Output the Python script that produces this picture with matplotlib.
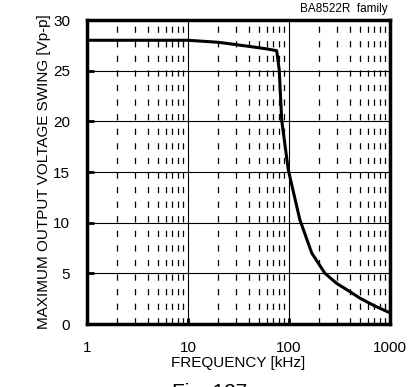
import numpy as np
import matplotlib
matplotlib.use("Agg")
import matplotlib.pyplot as plt
from matplotlib.ticker import FixedLocator, NullFormatter

plt.rcParams['font.family'] = ['Liberation Sans', 'DejaVu Sans']
plt.rcParams['lines.scale_dashes'] = False

# curve: frequency [kHz] vs swing [Vp-p]
freq = [1, 2, 5, 10, 20, 40, 60, 75.5, 80, 84.7, 98.4, 128, 168, 227, 297, 400, 504, 700, 1000]
swing = [28.0, 28.0, 28.0, 28.0, 27.8, 27.4, 27.15, 26.97, 25.1, 20.1, 15.2, 10.3, 7.0, 5.0, 4.0, 3.2, 2.55, 1.8, 1.1]

x_ticks = [1, 10, 100, 1000]
x_ticklabels = ["1", "10", "100", "1000"]
y_ticks = [0, 5, 10, 15, 20, 25, 30]

fig = plt.figure(figsize=(4.19, 3.87), dpi=100)
ax = fig.add_axes([87/419, 1 - 324/387, 303/419, 304/387])

ax.set_xscale("log")
ax.set_xlim(1, 1000)
ax.set_ylim(0, 30)

# minor dashed grid at 2..9 of each decade
minors = [m * 10**d for d in range(3) for m in range(2, 10)]
for xm in minors:
    ax.axvline(xm, color="black", lw=0.9, linestyle=(0, (4.5, 6.0)), zorder=1)
for xv in [10, 100]:
    ax.axvline(xv, color="black", lw=0.8, zorder=1)
for yv in y_ticks[1:-1]:
    ax.axhline(yv, color="black", lw=0.8, zorder=1)

ax.plot(freq, swing, color="black", lw=2.2, zorder=3)

ax.xaxis.set_major_locator(FixedLocator(x_ticks))
ax.xaxis.set_minor_locator(FixedLocator([]))
ax.xaxis.set_minor_formatter(NullFormatter())
ax.set_xticklabels(x_ticklabels)
ax.set_yticks(y_ticks)

ax.tick_params(axis="x", direction="in", length=4, width=2, pad=12, labelsize=11)
ax.tick_params(axis="y", direction="in", length=5, width=2, pad=12, labelsize=11)

for s in ax.spines.values():
    s.set_linewidth(2.5)

ax.set_xlabel("FREQUENCY [kHz]", fontsize=11, labelpad=1)
ax.set_ylabel("MAXIMUM OUTPUT VOLTAGE SWING [Vp-p]", fontsize=11, labelpad=1.5)

fig.text(388/419, 1 - 9/387, "BA8522R  family", ha="right", va="center", fontsize=8.5)
fig.text(172/419, 1 - 383/387, "Fig. 127", ha="left", va="top", fontsize=15)

fig.savefig("out.png", dpi=100)
